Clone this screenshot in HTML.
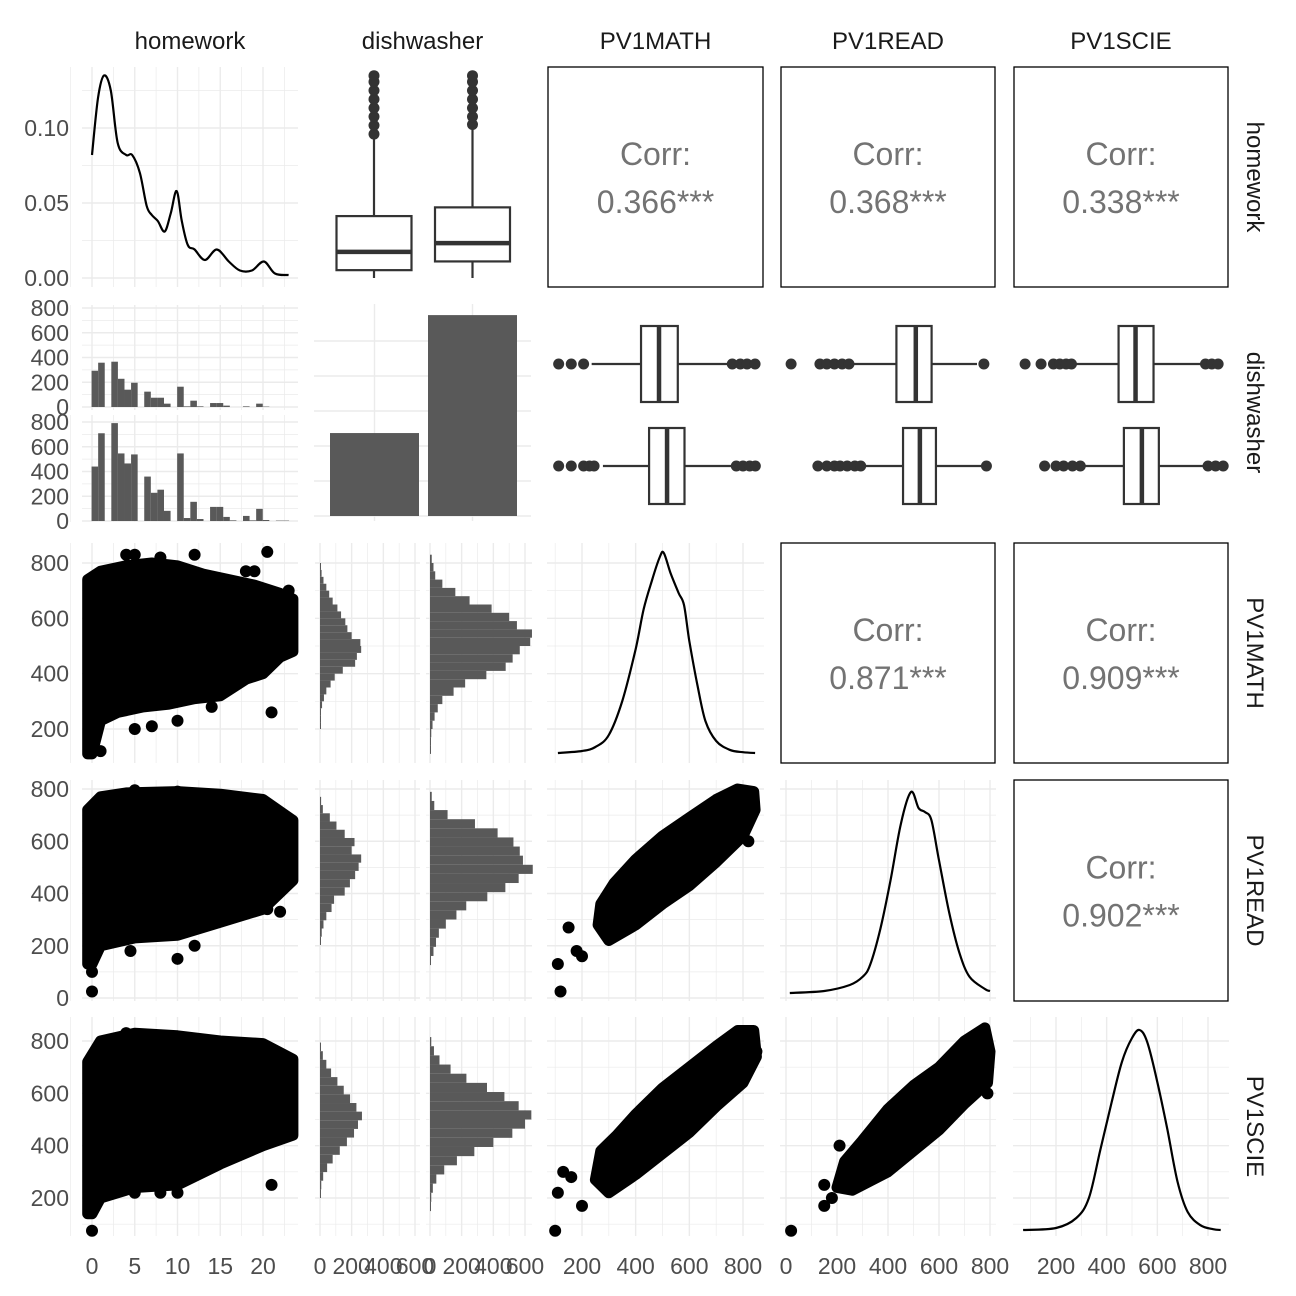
<!DOCTYPE html>
<html><head><meta charset="utf-8"><style>
html,body{margin:0;padding:0;background:#fff;}
svg{display:block;font-family:"Liberation Sans",Arial,sans-serif;}
</style></head><body>
<svg id="chart" width="1296" height="1296" viewBox="0 0 1296 1296" xmlns="http://www.w3.org/2000/svg"></svg>
<script>
// ---------- data ----------
const varNames = ["homework","dishwasher","PV1MATH","PV1READ","PV1SCIE"];
const corrValues = [["0.366***","0.368***","0.338***"],["0.871***","0.909***"],["0.902***"]];
// homework density
const hwDensX = [0,0.7,1.4,2.2,3,4,4.7,5.6,6.4,7,7.7,8.5,9.2,9.9,10.5,11.2,12,13.2,14.6,16,17.3,18.7,20.1,21.4,23];
const hwDensY = [0.082,0.12,0.135,0.125,0.09,0.082,0.082,0.07,0.048,0.042,0.038,0.031,0.043,0.058,0.038,0.022,0.019,0.012,0.019,0.011,0.005,0.005,0.011,0.003,0.002];
// homework boxplots by dishwasher [lowWhisk,Q1,med,Q3,hiWhisk]
const hwBox1 = [0,0.9,3.0,7.1,16.2];
const hwBox2 = [0,1.9,4.0,8.1,17.3];
const hwOut1 = [16.5,17.5,18.5,19.5,20.5,21.5,22.5,23.2];
const hwOut2 = [17.6,18.5,19.5,20.5,21.5,22.5,23.2];
// homework histograms by dishwasher
const hwBinStart = -0.05, hwBinW = 0.77;
const hwHistA = [293,358,0,366,228,140,196,0,124,75,75,27,0,164,5,51,5,0,32,32,11,0,0,5,0,27,3,0,0,0];
const hwHistB = [440,709,0,791,546,465,538,0,359,228,253,82,0,546,24,155,16,0,114,114,33,5,0,41,5,98,8,0,3,3];
// dishwasher counts
const dishCounts = [2370,5740];
// boxplots of scores by dishwasher [lo,Q1,med,Q3,hi]
const mathBoxA = [236,420,487,557,746], mathOutA = [113,160,206,760,790,815,845];
const mathBoxB = [278,450,517,582,763], mathOutB = [113,160,206,228,245,775,800,825,846];
const readBoxA = [247,433,509,571,749], readOutA = [20,133,160,190,220,247,776];
const readBoxB = [293,459,525,588,767], readOutB = [125,160,190,212,240,270,293,786];
const sciBoxA = [261,447,514,585,774], sciOutA = [78,141,190,215,240,261,790,815,840];
const sciBoxB = [296,468,539,606,780], sciOutB = [155,200,230,265,296,800,830,860];
// score histograms by dishwasher
const mathHistA = [3,4,6,13,25,40,67,93,144,222,233,260,255,200,173,160,133,110,80,58,40,22,10,5];
const mathHistB = [2,4,8,16,29,49,78,149,222,356,478,522,567,633,644,549,500,389,250,160,78,33,22,11];
const readHistA = [4,11,22,40,73,89,156,189,222,244,260,200,218,156,104,62,18,7];
const readHistB = [4,22,38,56,100,167,229,362,476,560,649,587,567,527,427,284,111,27,11];
const sciHistA = [3,8,20,45,80,125,170,215,240,265,230,190,150,110,70,40,18,6];
const sciHistB = [3,8,18,40,90,170,280,400,520,600,640,560,470,360,230,130,60,25,8];
// densities of scores
const mathDensX = [110,200,250,300,350,400,430,460,490,505,530,560,580,600,630,660,700,750,800,845];
const mathDensY = [0,0.05,0.15,0.45,1.3,2.6,3.6,4.3,4.9,5.0,4.5,4.0,3.7,2.8,1.7,0.8,0.3,0.08,0.02,0];
const readDensX = [15,150,250,300,330,370,410,450,490,520,545,570,600,640,680,720,780,800];
const readDensY = [0,0.05,0.2,0.4,0.7,1.6,2.8,4.2,5.0,4.6,4.5,4.3,3.3,2.0,1.0,0.4,0.1,0.05];
const sciDensX = [70,200,280,330,375,420,460,500,530,560,600,640,680,720,770,820,850];
const sciDensY = [0,0.05,0.3,0.8,2.0,3.2,4.2,4.8,5.0,4.7,3.7,2.5,1.2,0.45,0.12,0.02,0];
// scatter clouds (envelopes) and outlying points
const hmEnvX = [-0.5,1,4,7,10,13,16,19,22,23.5,23.5,22,20,18,15,12,9,6,3,1,0,-0.5];
const hmEnvY = [740,770,790,800,790,760,740,720,690,670,480,460,400,380,320,310,290,280,260,230,110,110];
const hmPtX = [4,5,8,12,20.5,18,19,21,14,10,5,7,1,0,23,22];
const hmPtY = [830,830,820,830,840,770,770,260,280,230,200,210,120,150,700,470];
const hrEnvX = [-0.5,1,4,10,15,20,23.5,23.5,20,15,10,5,1,0,-0.5];
const hrEnvY = [720,770,785,790,780,760,680,450,340,290,240,230,200,130,130];
const hrPtX = [0,0,4.5,10,12,20.5,22,18,10,5];
const hrPtY = [25,100,180,150,200,340,330,360,790,795];
const hsEnvX = [-0.5,1,5,10,15,20,23.5,23.5,20,15,10,5,1,0,-0.5];
const hsEnvY = [720,800,830,820,800,790,730,440,400,330,250,240,200,140,140];
const hsPtX = [0,0,5,8,10,21,23,4];
const hsPtY = [75,150,220,220,220,250,480,830];
const mrEnvX = [260,300,400,500,600,700,800,845,840,780,700,600,500,400,320,270];
const mrEnvY = [280,220,280,360,430,520,620,720,790,800,760,690,620,530,440,360];
const mrPtX = [110,120,150,180,200,820];
const mrPtY = [130,25,270,180,160,600];
const msEnvX = [250,300,400,500,600,700,800,850,840,780,700,600,500,400,330,270];
const msEnvY = [270,220,290,370,450,550,640,740,840,840,780,700,620,520,440,380];
const msPtX = [100,110,130,160,200,850];
const msPtY = [75,220,300,280,170,760];
const rsEnvX = [200,260,400,500,600,700,790,800,780,700,600,500,400,300,230];
const rsEnvY = [240,230,300,380,460,560,640,760,850,800,700,630,540,420,340];
const rsPtX = [20,150,150,180,210,790];
const rsPtY = [75,170,250,200,400,600];
// tick labels
const hwTicks = [0,5,10,15,20];
const dishTicks = [0,200,400,600];
const scoreTicks = [200,400,600,800];
const readTicks = [0,200,400,600,800];
const densTicks = ["0.00","0.05","0.10"];
const countTicks = [0,200,400,600,800];

// ---------- helpers ----------
const NS = "http://www.w3.org/2000/svg";
const svg = document.getElementById("chart");
function el(tag, attrs, name, parent){
  const e = document.createElementNS(NS, tag);
  for (const k in attrs) e.setAttribute(k, attrs[k]);
  
  
  (parent || svg).appendChild(e);
  return e;
}
function lin(d0,d1,r0,r1){ return v => r0 + (v-d0)*(r1-r0)/(d1-d0); }
const cols = [[82,298],[314,531],[547,764],[780,996],[1013,1229]];
const rows = [[67,287],[304,521],[543,763],[780,1001],[1017,1236]];
const xH = lin(0,20,92,263), xM = lin(200,800,582,743), xR = lin(0,800,786,990), xS = lin(200,800,1056,1208);
const xD1 = lin(0,600,320,415), xD2 = lin(0,600,430,525);
const yDen = lin(0,0.1,278,128), yHb = lin(0,10,278,190.8);
const yC1 = lin(0,800,407,308), yC2 = lin(0,800,521,422);
const yM = lin(200,800,729,563), yR = lin(0,800,998,789), yS = lin(200,800,1198,1041);
const yBar = lin(0,1000,516,481);
const yMd = v => 753 - v*40, yRd = v => 993 - v*40.2, ySd = v => 1230 - v*40;
const GRID = "#ebebeb";
const TICK_FS = 23;
function vgrid(xs, y0, y1, w, name){ xs.forEach(x => el("line",{x1:x,x2:x,y1:y0,y2:y1,stroke:GRID,"stroke-width":w},name)); }
function hgrid(ys, x0, x1, w, name){ ys.forEach(y => el("line",{x1:x0,x2:x1,y1:y,y2:y,stroke:GRID,"stroke-width":w},name)); }
function vals(a,b,s){ const r=[]; for(let v=a; v<=b+1e-9; v+=s) r.push(v); return r; }
function text(x,y,t,name,opts){
  const o = Object.assign({x:x,y:y,"font-size":TICK_FS,fill:"#4d4d4d"}, opts||{});
  const e = el("text",o,name); e.textContent = t; return e;
}

// ---------- grids ----------
const colMajors = [hwTicks.map(xH), null, scoreTicks.map(xM), readTicks.map(xR), scoreTicks.map(xS)];
const colMinors = [[-2.5,2.5,7.5,12.5,17.5,22.5].map(xH), null, [100,300,500,700].map(xM), [100,300,500,700].map(xR), [100,300,500,700].map(xS)];
const rowMajors = [[0,0.05,0.1].map(yDen), null, scoreTicks.map(yM), readTicks.map(yR), scoreTicks.map(yS)];
const rowMinors = [[0.025,0.075,0.125].map(yDen), null, [300,500,700].map(yM), [100,300,500,700].map(yR), [100,300,500,700].map(yS)];
for (let r=0;r<5;r++){
  for (let c=0;c<5;c++){
    if (c>r) continue;
    const [x0,x1]=cols[c],[y0,y1]=rows[r];
    if (c===1 && r!==1 && r!==0){
      [[315,420,xD1],[426,532,xD2]].forEach(([a,b,sc])=>{
        vgrid([0,200,400,600].map(sc),y0,y1,1.4,"grid-major-x");
        vgrid([100,300,500].map(sc),y0,y1,0.7,"grid-minor-x");
        hgrid(rowMajors[r],a,b,1.4,"grid-major-y");
        hgrid(rowMinors[r],a,b,0.7,"grid-minor-y");
      });
      continue;
    }
    if (r===1 && c===0){
      [[305,410,yC1],[415,522,yC2]].forEach(([a,b,sc])=>{
        hgrid(countTicks.map(sc),x0,x1,1.4,"grid-major-y");
        hgrid([100,300,500,700].map(sc),x0,x1,0.7,"grid-minor-y");
        vgrid(colMajors[0],a,b,1.4,"grid-major-x");
        vgrid(colMinors[0],a,b,0.7,"grid-minor-x");
      });
      continue;
    }
    if (r===1 && c===1){
      hgrid([341,376,411,446,481,516],x0,x1,1.4,"grid-y");
      vgrid([374.5,472.5],y0,y1,1.4,"grid-x");
      continue;
    }
    if (r===0 && c===1){
      hgrid(vals(0,22.5,5).map(yHb),x0,x1,1.4,"grid-major-y");
      hgrid(vals(2.5,23,5).map(yHb),x0,x1,0.7,"grid-minor-y");
      vgrid([374,472.5],y0,y1,1.4,"grid-x");
      continue;
    }
    if (r===1){
      hgrid([364,466],x0,x1,1.4,"grid-y");
      vgrid(colMajors[c],y0,y1,1.4,"grid-major-x");
      vgrid(colMinors[c],y0,y1,0.7,"grid-minor-x");
      continue;
    }
    vgrid(colMajors[c],y0,y1,1.4,"grid-major-x");
    vgrid(colMinors[c],y0,y1,0.7,"grid-minor-x");
    hgrid(rowMajors[r],x0,x1,1.4,"grid-major-y");
    hgrid(rowMinors[r],x0,x1,0.7,"grid-minor-y");
  }
}

// ---------- density lines (smoothed) ----------
function line(xs, ys, fx, fy, name){
  const P = xs.map((v,i)=>[fx(v), fy(ys[i])]);
  let d = "M"+P[0][0].toFixed(1)+","+P[0][1].toFixed(1);
  for (let i=0;i<P.length-1;i++){
    const p0=P[Math.max(i-1,0)], p1=P[i], p2=P[i+1], p3=P[Math.min(i+2,P.length-1)];
    const c1=[p1[0]+(p2[0]-p0[0])/6, p1[1]+(p2[1]-p0[1])/6];
    const c2=[p2[0]-(p3[0]-p1[0])/6, p2[1]-(p3[1]-p1[1])/6];
    d += " C"+c1[0].toFixed(1)+","+c1[1].toFixed(1)+" "+c2[0].toFixed(1)+","+c2[1].toFixed(1)+" "+p2[0].toFixed(1)+","+p2[1].toFixed(1);
  }
  el("path",{d:d,fill:"none",stroke:"#000","stroke-width":2.2,"stroke-linejoin":"round"},name);
}
line(hwDensX, hwDensY, xH, yDen, "homework-density");
line(mathDensX, mathDensY, xM, yMd, "math-density");
line(readDensX, readDensY, xR, yRd, "read-density");
line(sciDensX, sciDensY, xS, ySd, "science-density");

// ---------- vertical boxplots (row1 col2) ----------
function vbox(cx, s, outs, name){
  const g = el("g",{},name);
  el("line",{x1:cx,x2:cx,y1:yHb(s[0]),y2:yHb(s[1]),stroke:"#333","stroke-width":2.2},"whisker-low",g);
  el("line",{x1:cx,x2:cx,y1:yHb(s[3]),y2:yHb(s[4]),stroke:"#333","stroke-width":2.2},"whisker-high",g);
  el("rect",{x:cx-37.5,y:yHb(s[3]),width:75,height:yHb(s[1])-yHb(s[3]),fill:"#fff",stroke:"#333","stroke-width":2.2},"box",g);
  el("line",{x1:cx-37.5,x2:cx+37.5,y1:yHb(s[2]),y2:yHb(s[2]),stroke:"#333","stroke-width":4.5},"median",g);
  outs.forEach(o=>el("circle",{cx:cx,cy:yHb(o),r:5.5,fill:"#333"},"outlier",g));
}
vbox(374, hwBox1, hwOut1, "homework-box-no");
vbox(472.5, hwBox2, hwOut2, "homework-box-yes");

// ---------- homework histograms (row2 col1) ----------
function hwHist(counts, fy, name){
  const g = el("g",{},name);
  counts.forEach((c,i)=>{
    if(!c) return;
    const a = xH(hwBinStart+i*hwBinW), b = xH(hwBinStart+(i+1)*hwBinW);
    el("rect",{x:a,y:fy(c),width:b-a,height:fy(0)-fy(c),fill:"#595959"},"hist-bar",g);
  });
}
hwHist(hwHistA, yC1, "homework-hist-no");
hwHist(hwHistB, yC2, "homework-hist-yes");

// ---------- dishwasher bar chart ----------
[330,428].forEach((x,i)=>{
  el("rect",{x:x,y:yBar(dishCounts[i]),width:89,height:yBar(0)-yBar(dishCounts[i]),fill:"#595959"},"dishwasher-bar");
});

// ---------- horizontal boxplots (row2 cols3-5) ----------
function hbox(cy, s, outs, fx, name){
  const g = el("g",{},name);
  el("line",{x1:fx(s[0]),x2:fx(s[1]),y1:cy,y2:cy,stroke:"#333","stroke-width":2.2},"whisker-low",g);
  el("line",{x1:fx(s[3]),x2:fx(s[4]),y1:cy,y2:cy,stroke:"#333","stroke-width":2.2},"whisker-high",g);
  el("rect",{x:fx(s[1]),y:cy-38,width:fx(s[3])-fx(s[1]),height:76,fill:"#fff",stroke:"#333","stroke-width":2.2},"box",g);
  el("line",{x1:fx(s[2]),x2:fx(s[2]),y1:cy-38,y2:cy+38,stroke:"#333","stroke-width":4.5},"median",g);
  outs.forEach(o=>el("circle",{cx:fx(o),cy:cy,r:5.5,fill:"#333"},"outlier",g));
}
hbox(364, mathBoxA, mathOutA, xM, "math-box-no");
hbox(466, mathBoxB, mathOutB, xM, "math-box-yes");
hbox(364, readBoxA, readOutA, xR, "read-box-no");
hbox(466, readBoxB, readOutB, xR, "read-box-yes");
hbox(364, sciBoxA, sciOutA, xS, "science-box-no");
hbox(466, sciBoxB, sciOutB, xS, "science-box-yes");

// ---------- score histograms (col2 rows3-5) ----------
function sHist(counts, lo, w, fy, fx, name){
  const g = el("g",{},name);
  counts.forEach((c,i)=>{
    const y1 = fy(lo+i*w), y2 = fy(lo+(i+1)*w);
    el("rect",{x:fx(0),y:y2,width:Math.max(fx(c)-fx(0),1),height:y1-y2,fill:"#595959"},"hist-bar",g);
  });
}
sHist(mathHistA, 200, 25, yM, xD1, "math-hist-no");
sHist(mathHistB, 110, 30, yM, xD2, "math-hist-yes");
sHist(readHistA, 203, 31.5, yR, xD1, "read-hist-no");
sHist(readHistB, 126, 34.9, yR, xD2, "read-hist-yes");
sHist(sciHistA, 200, 33, yS, xD1, "science-hist-no");
sHist(sciHistB, 150, 35, yS, xD2, "science-hist-yes");

// ---------- scatter clouds ----------
function cloud(ex, ey, px, py, fx, fy, name){
  const g = el("g",{},name);
  const pts = ex.map((v,i)=>fx(v).toFixed(1)+","+fy(ey[i]).toFixed(1)).join(" ");
  el("polygon",{points:pts,fill:"#000",stroke:"#000","stroke-width":11,"stroke-linejoin":"round"},"point-cloud",g);
  px.forEach((v,i)=>el("circle",{cx:fx(v),cy:fy(py[i]),r:6,fill:"#000"},"point",g));
}
cloud(hmEnvX, hmEnvY, hmPtX, hmPtY, xH, yM, "scatter-homework-math");
cloud(hrEnvX, hrEnvY, hrPtX, hrPtY, xH, yR, "scatter-homework-read");
cloud(hsEnvX, hsEnvY, hsPtX, hsPtY, xH, yS, "scatter-homework-science");
cloud(mrEnvX, mrEnvY, mrPtX, mrPtY, xM, yR, "scatter-math-read");
cloud(msEnvX, msEnvY, msPtX, msPtY, xM, yS, "scatter-math-science");
cloud(rsEnvX, rsEnvY, rsPtX, rsPtY, xR, yS, "scatter-read-science");

// ---------- correlation panels ----------
const corrPos = [[0,2],[0,3],[0,4],[2,3],[2,4],[3,4]];
const corrFlat = [corrValues[0][0],corrValues[0][1],corrValues[0][2],corrValues[1][0],corrValues[1][1],corrValues[2][0]];
corrPos.forEach(([r,c],i)=>{
  const [x0,x1]=cols[c],[y0,y1]=rows[r];
  el("rect",{x:x0+1,y:y0,width:x1-x0-2,height:y1-y0,fill:"none",stroke:"#000","stroke-width":1.3},"corr-panel-border");
  const cx=(x0+x1)/2, cy=(y0+y1)/2;
  text(cx,cy-12,"Corr:","corr-label",{"text-anchor":"middle","font-size":32,fill:"#737373"});
  text(cx,cy+36,corrFlat[i],"corr-value",{"text-anchor":"middle","font-size":32,fill:"#737373"});
});

// ---------- strip labels ----------
varNames.forEach((n,i)=>{
  text((cols[i][0]+cols[i][1])/2,49,n,"column-strip-label",{"text-anchor":"middle","font-size":24,fill:"#1a1a1a"});
  const cy=(rows[i][0]+rows[i][1])/2;
  text(1247,cy,n,"row-strip-label",{"text-anchor":"middle","font-size":24,fill:"#1a1a1a",transform:"rotate(90 1247 "+cy+")"});
});

// ---------- axis tick labels ----------
densTicks.forEach(t=>text(69,yDen(+t)+8,t,"y-tick-label",{"text-anchor":"end"}));
countTicks.forEach(t=>{ text(69,yC1(t)+8,String(t),"y-tick-label",{"text-anchor":"end"}); text(69,yC2(t)+8,String(t),"y-tick-label",{"text-anchor":"end"}); });
scoreTicks.forEach(t=>text(69,yM(t)+8,String(t),"y-tick-label",{"text-anchor":"end"}));
readTicks.forEach(t=>text(69,yR(t)+8,String(t),"y-tick-label",{"text-anchor":"end"}));
scoreTicks.forEach(t=>text(69,yS(t)+8,String(t),"y-tick-label",{"text-anchor":"end"}));
const by = 1274;
hwTicks.forEach(t=>text(xH(t),by,String(t),"x-tick-label",{"text-anchor":"middle"}));
dishTicks.forEach(t=>{ text(xD1(t),by,String(t),"x-tick-label",{"text-anchor":"middle"}); text(xD2(t),by,String(t),"x-tick-label",{"text-anchor":"middle"}); });
scoreTicks.forEach(t=>text(xM(t),by,String(t),"x-tick-label",{"text-anchor":"middle"}));
readTicks.forEach(t=>text(xR(t),by,String(t),"x-tick-label",{"text-anchor":"middle"}));
scoreTicks.forEach(t=>text(xS(t),by,String(t),"x-tick-label",{"text-anchor":"middle"}));
</script>
</body></html>
